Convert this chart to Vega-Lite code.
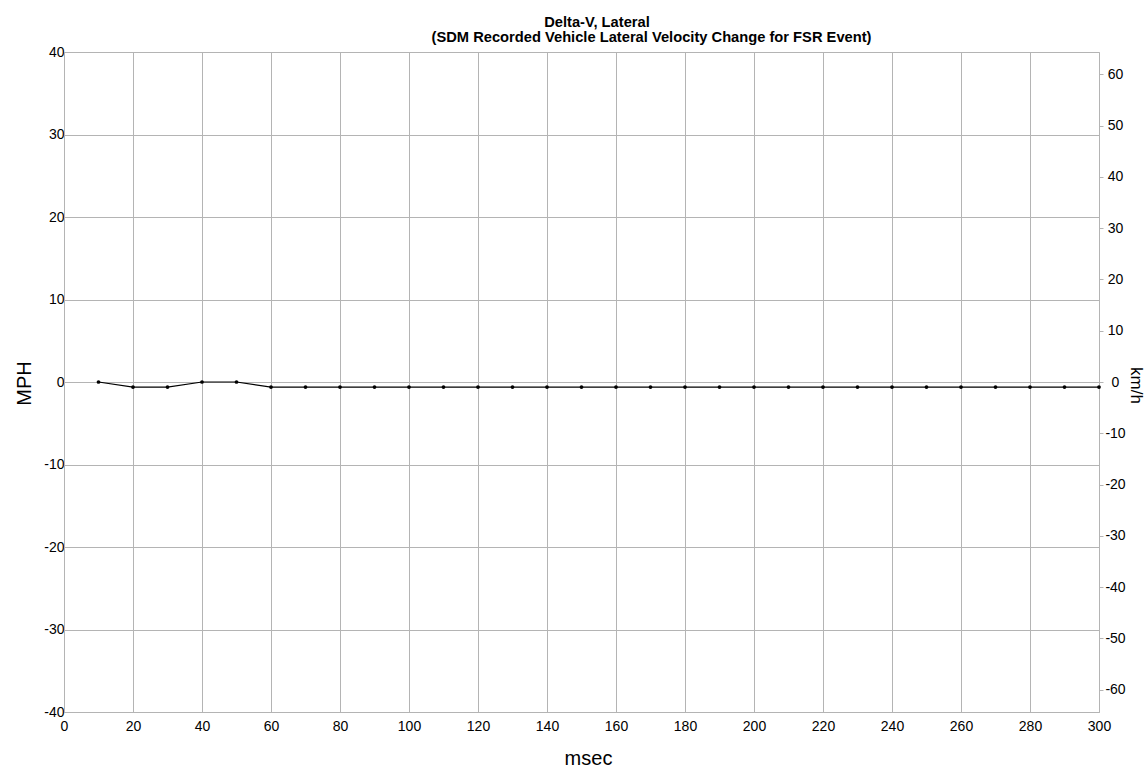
{
  "$schema": "https://vega.github.io/schema/vega-lite/v6.json",
  "autosize": {"type": "none"},
  "padding": {"left": 64, "top": 52, "right": 46, "bottom": 59},
  "width": 1035,
  "height": 660,
  "background": "white",
  "title": {
    "text": "Delta-V, Lateral",
    "font": "Liberation Sans",
    "fontSize": 14.7,
    "fontWeight": "bold",
    "color": "#000000",
    "anchor": "middle",
    "frame": "group",
    "baseline": "alphabetic",
    "offset": -13,
    "dx": 15.5
  },
  "data": {
    "values": [
      {"ms": 10, "mph": 0, "kmh": 0},
      {"ms": 20, "mph": -0.62, "kmh": -1},
      {"ms": 30, "mph": -0.62, "kmh": -1},
      {"ms": 40, "mph": 0, "kmh": 0},
      {"ms": 50, "mph": 0, "kmh": 0},
      {"ms": 60, "mph": -0.62, "kmh": -1},
      {"ms": 70, "mph": -0.62, "kmh": -1},
      {"ms": 80, "mph": -0.62, "kmh": -1},
      {"ms": 90, "mph": -0.62, "kmh": -1},
      {"ms": 100, "mph": -0.62, "kmh": -1},
      {"ms": 110, "mph": -0.62, "kmh": -1},
      {"ms": 120, "mph": -0.62, "kmh": -1},
      {"ms": 130, "mph": -0.62, "kmh": -1},
      {"ms": 140, "mph": -0.62, "kmh": -1},
      {"ms": 150, "mph": -0.62, "kmh": -1},
      {"ms": 160, "mph": -0.62, "kmh": -1},
      {"ms": 170, "mph": -0.62, "kmh": -1},
      {"ms": 180, "mph": -0.62, "kmh": -1},
      {"ms": 190, "mph": -0.62, "kmh": -1},
      {"ms": 200, "mph": -0.62, "kmh": -1},
      {"ms": 210, "mph": -0.62, "kmh": -1},
      {"ms": 220, "mph": -0.62, "kmh": -1},
      {"ms": 230, "mph": -0.62, "kmh": -1},
      {"ms": 240, "mph": -0.62, "kmh": -1},
      {"ms": 250, "mph": -0.62, "kmh": -1},
      {"ms": 260, "mph": -0.62, "kmh": -1},
      {"ms": 270, "mph": -0.62, "kmh": -1},
      {"ms": 280, "mph": -0.62, "kmh": -1},
      {"ms": 290, "mph": -0.62, "kmh": -1},
      {"ms": 300, "mph": -0.62, "kmh": -1}
    ]
  },
  "layer": [
    {
      "mark": {
        "type": "line",
        "color": "#000000",
        "strokeWidth": 1.1,
        "point": {"filled": true, "color": "#000000", "size": 14, "opacity": 1}
      },
      "encoding": {
        "x": {
          "field": "ms",
          "type": "quantitative",
          "scale": {"domain": [0, 300], "nice": false, "zero": false},
          "axis": {
            "orient": "bottom",
            "values": [0, 20, 40, 60, 80, 100, 120, 140, 160, 180, 200, 220, 240, 260, 280, 300],
            "labelExpr": "datum.value + ''",
            "grid": true,
            "ticks": false,
            "tickSize": 0,
            "labelPadding": 7,
            "labelDx": 3,
            "labelFontSize": 14,
            "labelFlush": false,
            "labelOverlap": false,
            "labelBound": false,
            "title": "msec",
            "titleFontSize": 20,
            "titleX": 524,
            "titleY": 52,
            "titleBaseline": "alphabetic",
            "titleAlign": "center"
          }
        },
        "y": {
          "field": "mph",
          "type": "quantitative",
          "scale": {"domain": [-40, 40], "nice": false, "zero": false},
          "axis": {
            "orient": "left",
            "values": [-40, -30, -20, -10, 0, 10, 20, 30, 40],
            "labelExpr": "datum.value + ''",
            "grid": true,
            "ticks": false,
            "tickSize": 0,
            "labelPadding": 0,
            "labelDy": 2,
            "labelFontSize": 14,
            "labelFlush": false,
            "labelOverlap": false,
            "labelBound": false,
            "title": "MPH",
            "titleFontSize": 20,
            "titleAngle": -90,
            "titleX": -40,
            "titleY": 331,
            "titleBaseline": "middle",
            "titleAlign": "center"
          }
        }
      }
    },
    {
      "mark": {"type": "point", "opacity": 0},
      "encoding": {
        "x": {
          "field": "ms",
          "type": "quantitative",
          "axis": {
            "orient": "top",
            "labels": false,
            "ticks": false,
            "domain": false,
            "grid": false,
            "title": "(SDM Recorded Vehicle Lateral Velocity Change for FSR Event)",
            "titleFontSize": 14.7,
            "titleFontWeight": "bold",
            "titleX": 587,
            "titleY": -11,
            "titleBaseline": "alphabetic",
            "titleAlign": "center"
          }
        },
        "y": {
          "field": "kmh",
          "type": "quantitative",
          "scale": {"domain": [-64.374, 64.374], "nice": false, "zero": false},
          "axis": {
            "orient": "right",
            "values": [-60, -50, -40, -30, -20, -10, 0, 10, 20, 30, 40, 50, 60],
            "labelExpr": "datum.value + ''",
            "grid": false,
            "ticks": true,
            "tickSize": 4,
            "labelPadding": 12,
            "labelAlign": "center",
            "labelDy": 2,
            "labelFontSize": 14,
            "labelFlush": false,
            "labelOverlap": false,
            "labelBound": false,
            "title": "km/h",
            "titleFontSize": 17,
            "titleAngle": 90,
            "titleX": 36,
            "titleY": 333,
            "titleBaseline": "middle",
            "titleAlign": "center"
          }
        }
      }
    }
  ],
  "resolve": {
    "scale": {"y": "independent"},
    "axis": {"x": "independent", "y": "independent"}
  },
  "config": {
    "view": {"stroke": null},
    "font": "Liberation Sans",
    "axis": {
      "labelFont": "Liberation Sans",
      "titleFont": "Liberation Sans",
      "labelColor": "#000000",
      "titleColor": "#000000",
      "titleFontWeight": "normal",
      "domainColor": "#b4b4b4",
      "domainWidth": 1,
      "gridColor": "#b4b4b4",
      "gridOpacity": 1,
      "gridWidth": 1,
      "tickColor": "#b4b4b4"
    }
  }
}
